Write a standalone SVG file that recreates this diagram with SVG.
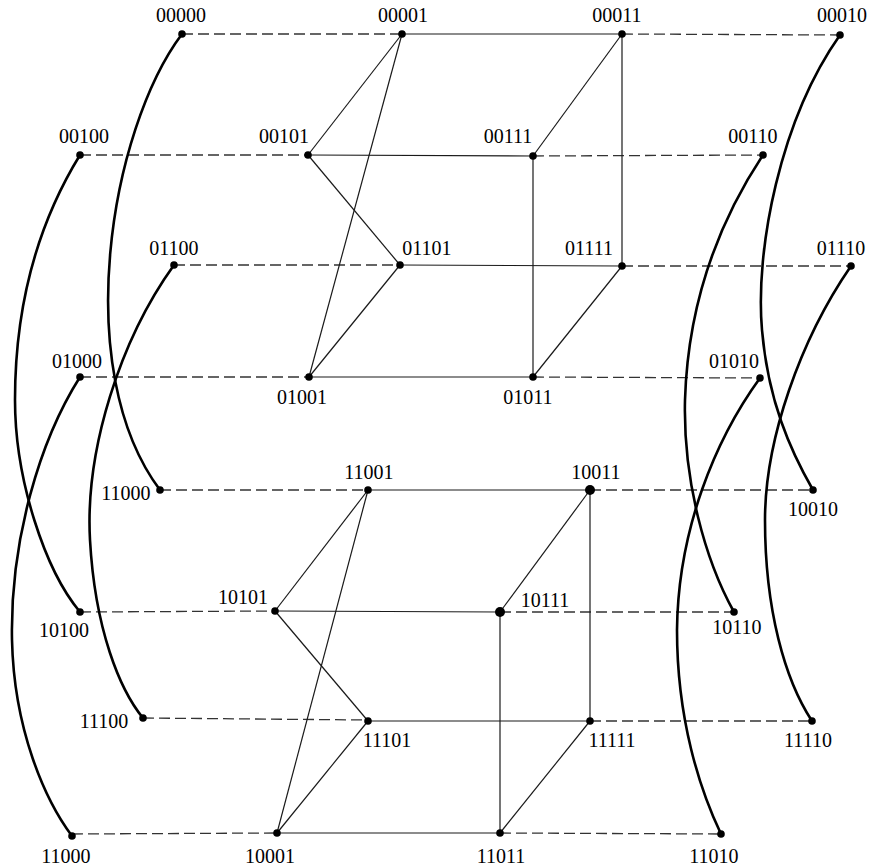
<svg xmlns="http://www.w3.org/2000/svg" width="870" height="868" viewBox="0 0 870 868">
<style>
.e{stroke:#1a1a1a;stroke-width:1.2;fill:none}
.d{stroke:#333;stroke-width:1.3;fill:none;stroke-dasharray:11 5}
.c{stroke:#000;stroke-width:2.6;fill:none}
.n{fill:#000}
text{font-family:"Liberation Serif","Times New Roman",serif;font-size:20px;fill:#000;text-anchor:middle}
</style>
<rect width="870" height="868" fill="#fff"/>
<g id="connectors">
<!-- dashed -->
<line class="d" x1="182" y1="34" x2="402" y2="34"/>
<line class="d" x1="622" y1="34" x2="840" y2="35"/>
<line class="d" x1="80" y1="155" x2="308" y2="155"/>
<line class="d" x1="533" y1="156" x2="763" y2="155"/>
<line class="d" x1="174" y1="265" x2="400" y2="265"/>
<line class="d" x1="622" y1="266" x2="851" y2="266"/>
<line class="d" x1="80" y1="377" x2="309" y2="377"/>
<line class="d" x1="533" y1="377" x2="760" y2="378"/>
<line class="d" x1="160" y1="490" x2="368" y2="490"/>
<line class="d" x1="590" y1="490" x2="813" y2="490"/>
<line class="d" x1="80" y1="612" x2="275" y2="611"/>
<line class="d" x1="500" y1="612" x2="734" y2="612"/>
<line class="d" x1="143" y1="718" x2="368" y2="720"/>
<line class="d" x1="590" y1="721" x2="812" y2="721"/>
<line class="d" x1="72" y1="834" x2="277" y2="833"/>
<line class="d" x1="500" y1="833" x2="721" y2="834"/>
<!-- top cube -->
<line class="e" x1="402" y1="34" x2="622" y2="34"/>
<line class="e" x1="402" y1="34" x2="308" y2="155"/>
<line class="e" x1="402" y1="34" x2="309" y2="377"/>
<line class="e" x1="308" y1="155" x2="533" y2="156"/>
<line class="e" x1="308" y1="155" x2="400" y2="265"/>
<line class="e" x1="622" y1="34" x2="533" y2="156"/>
<line class="e" x1="622" y1="34" x2="622" y2="266"/>
<line class="e" x1="533" y1="156" x2="533" y2="377"/>
<line class="e" x1="400" y1="265" x2="622" y2="266"/>
<line class="e" x1="400" y1="265" x2="309" y2="377"/>
<line class="e" x1="309" y1="377" x2="533" y2="377"/>
<line class="e" x1="622" y1="266" x2="533" y2="377"/>
<!-- bottom cube -->
<line class="e" x1="368" y1="490" x2="590" y2="490"/>
<line class="e" x1="368" y1="490" x2="275" y2="611"/>
<line class="e" x1="368" y1="490" x2="277" y2="833"/>
<line class="e" x1="275" y1="611" x2="500" y2="612"/>
<line class="e" x1="275" y1="611" x2="368" y2="721"/>
<line class="e" x1="590" y1="490" x2="500" y2="612"/>
<line class="e" x1="590" y1="490" x2="590" y2="721"/>
<line class="e" x1="500" y1="612" x2="500" y2="833"/>
<line class="e" x1="368" y1="721" x2="590" y2="721"/>
<line class="e" x1="368" y1="721" x2="277" y2="833"/>
<line class="e" x1="277" y1="833" x2="500" y2="833"/>
<line class="e" x1="590" y1="721" x2="500" y2="833"/>
<!-- curves -->
<path class="c" d="M182,34 C110,130 70,370 160,490"/>
<path class="c" d="M80,155 C40,220 15,300 15,400 C15,480 45,570 80,612"/>
<path class="c" d="M174,265 C120,340 85,450 90,540 C95,630 120,690 143,718"/>
<path class="c" d="M80,377 C40,440 10,540 12,640 C14,730 45,800 72,836"/>
<path class="c" d="M840,35 C780,120 755,250 762,330 C768,400 790,450 813,490"/>
<path class="c" d="M763,155 C720,220 688,300 685,400 C683,480 705,560 734,612"/>
<path class="c" d="M851,266 C800,340 765,440 765,520 C765,610 785,680 812,721"/>
<path class="c" d="M760,378 C715,440 678,530 677,630 C677,720 700,790 721,834"/>
</g>
<g id="n00000"><circle class="n" cx="182" cy="34" r="3.8"/><text x="181" y="22">00000</text></g>
<g id="n00001"><circle class="n" cx="402" cy="34" r="3.8"/><text x="403" y="22">00001</text></g>
<g id="n00011"><circle class="n" cx="622" cy="34" r="3.8"/><text x="617" y="22">00011</text></g>
<g id="n00010"><circle class="n" cx="840" cy="35" r="3.8"/><text x="842" y="22">00010</text></g>
<g id="n00100"><circle class="n" cx="80" cy="155" r="3.8"/><text x="84" y="143">00100</text></g>
<g id="n00101"><circle class="n" cx="308" cy="155" r="3.8"/><text x="284" y="143">00101</text></g>
<g id="n00111"><circle class="n" cx="533" cy="156" r="3.8"/><text x="508" y="143">00111</text></g>
<g id="n00110"><circle class="n" cx="763" cy="155" r="3.8"/><text x="753" y="143">00110</text></g>
<g id="n01100"><circle class="n" cx="174" cy="265" r="3.8"/><text x="174" y="255">01100</text></g>
<g id="n01101"><circle class="n" cx="400" cy="265" r="3.8"/><text x="427" y="255">01101</text></g>
<g id="n01111"><circle class="n" cx="622" cy="266" r="3.8"/><text x="589" y="255">01111</text></g>
<g id="n01110"><circle class="n" cx="851" cy="266" r="3.8"/><text x="841" y="255">01110</text></g>
<g id="n01000"><circle class="n" cx="80" cy="377" r="3.8"/><text x="77" y="368">01000</text></g>
<g id="n01001"><circle class="n" cx="309" cy="377" r="3.8"/><text x="302" y="404">01001</text></g>
<g id="n01011"><circle class="n" cx="533" cy="377" r="3.8"/><text x="528" y="404">01011</text></g>
<g id="n01010"><circle class="n" cx="760" cy="378" r="3.8"/><text x="734" y="368">01010</text></g>
<g id="n11000a"><circle class="n" cx="160" cy="490" r="3.8"/><text x="126" y="500">11000</text></g>
<g id="n11001"><circle class="n" cx="368" cy="490" r="3.8"/><text x="369" y="479">11001</text></g>
<g id="n10011"><circle class="n" cx="590" cy="490" r="5"/><text x="596" y="479">10011</text></g>
<g id="n10010"><circle class="n" cx="813" cy="490" r="3.8"/><text x="813" y="516">10010</text></g>
<g id="n10100"><circle class="n" cx="80" cy="612" r="3.8"/><text x="64" y="637">10100</text></g>
<g id="n10101"><circle class="n" cx="275" cy="611" r="3.8"/><text x="243" y="604">10101</text></g>
<g id="n10111"><circle class="n" cx="500" cy="612" r="5"/><text x="545" y="607">10111</text></g>
<g id="n10110"><circle class="n" cx="734" cy="612" r="3.8"/><text x="737" y="634">10110</text></g>
<g id="n11100"><circle class="n" cx="143" cy="718" r="3.8"/><text x="104" y="728">11100</text></g>
<g id="n11101"><circle class="n" cx="368" cy="721" r="3.8"/><text x="387" y="747">11101</text></g>
<g id="n11111"><circle class="n" cx="590" cy="721" r="3.8"/><text x="612" y="747">11111</text></g>
<g id="n11110"><circle class="n" cx="812" cy="721" r="3.8"/><text x="808" y="747">11110</text></g>
<g id="n11000b"><circle class="n" cx="72" cy="836" r="3.8"/><text x="66" y="863">11000</text></g>
<g id="n10001"><circle class="n" cx="277" cy="833" r="3.8"/><text x="270" y="863">10001</text></g>
<g id="n11011"><circle class="n" cx="500" cy="833" r="3.8"/><text x="501" y="863">11011</text></g>
<g id="n11010"><circle class="n" cx="721" cy="834" r="3.8"/><text x="714" y="863">11010</text></g>
</svg>
